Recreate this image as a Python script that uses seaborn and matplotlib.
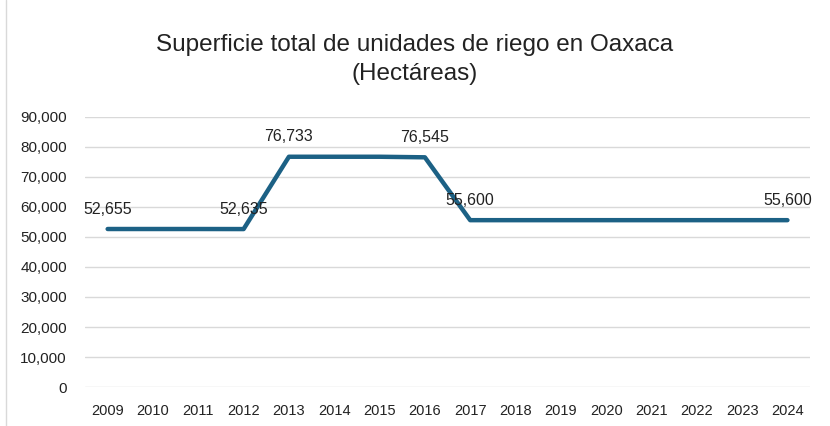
import matplotlib
matplotlib.use("Agg")
import matplotlib.pyplot as plt
import seaborn as sns
import pandas as pd

years = [2009, 2010, 2011, 2012, 2013, 2014, 2015, 2016,
         2017, 2018, 2019, 2020, 2021, 2022, 2023, 2024]
superficie = [52655, 52655, 52655, 52635, 76733, 76733, 76733, 76545,
              55600, 55600, 55600, 55600, 55600, 55600, 55600, 55600]
labeled_years = [2009, 2012, 2013, 2016, 2017, 2024]

df = pd.DataFrame({"pos": range(len(years)), "year": years, "ha": superficie})

sns.set_theme(style="white")
plt.rcParams["font.family"] = ["Liberation Sans", "DejaVu Sans"]

fig = plt.figure(figsize=(8.3, 4.26), dpi=100)
ax = fig.add_axes([0.1024, 0.0915, 0.8736, 0.634])

sns.lineplot(data=df, x="pos", y="ha", ax=ax, color="#1c6185", linewidth=3.2)

for _, r in df.iterrows():
    if r["year"] in labeled_years:
        ax.annotate(f"{int(r['ha']):,}", (r["pos"], r["ha"]), xytext=(0, 9),
                    textcoords="offset points", ha="center", va="bottom",
                    fontsize=11.5, color="#222222")

ax.set_xlim(-0.5, len(years) - 0.5)
ax.set_ylim(0, 90000)
ax.set_yticks(range(0, 90001, 10000))
ax.set_yticklabels([f"{v:,}" for v in range(0, 90001, 10000)], fontsize=11, color="#222222")
ax.set_xticks(df["pos"])
ax.set_xticklabels([str(y) for y in years], fontsize=10.5, color="#222222")
ax.tick_params(axis="y", length=0, pad=13)
ax.tick_params(axis="x", length=0, pad=12)
ax.grid(axis="y", color="#d9d9d9", linewidth=1)
ax.set_axisbelow(True)
for s in ax.spines.values():
    s.set_visible(False)
ax.set_xlabel("")
ax.set_ylabel("")

fig.text(0.5, 0.86, "Superficie total de unidades de riego en Oaxaca\n(Hectáreas)",
         ha="center", va="center", fontsize=17.5, color="#222222", linespacing=1.45)

# thin frame line on the left edge like the source
fig.add_artist(plt.Line2D([0.007, 0.007], [0.0, 1.0], color="#d9d9d9", linewidth=1))

fig.savefig("out.png", dpi=100)
